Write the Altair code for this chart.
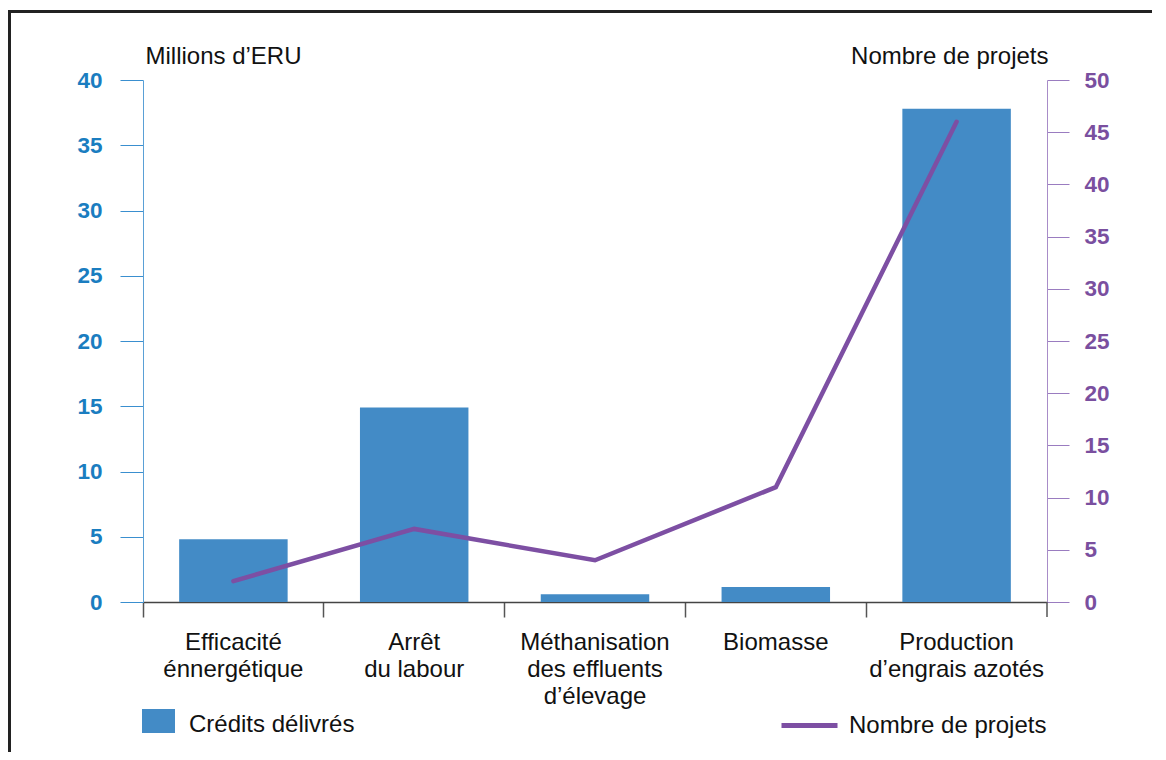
import altair as alt
import pandas as pd

categories = [
    "Efficacité|énnergétique",
    "Arrêt|du labour",
    "Méthanisation|des effluents|d’élevage",
    "Biomasse",
    "Production|d’engrais azotés",
]
credits = [4.8, 14.9, 0.6, 1.15, 37.8]
projets = [2, 7, 4, 11, 46]
credit_ticks = list(range(0, 41, 5))
projet_ticks = list(range(0, 51, 5))

df = pd.DataFrame({
    "cat": categories,
    "credits": credits,
    "projets": projets,
    "sb": "Crédits délivrés",
    "sl": "Nombre de projets",
})

FONT = "Liberation Sans"
W, H = 904, 522
BLUE = "#438bc6"
PURPLE = "#7d4fa3"
TXT = 24

x = alt.X(
    "cat:N", sort=None, title=None,
    scale=alt.Scale(paddingInner=0, paddingOuter=0),
    axis=alt.Axis(
        labelExpr="split(datum.label, '|')", labelAngle=0, bandPosition=0,
        tickSize=15, labelPadding=13, labelFontSize=TXT, labelFont=FONT,
        labelColor="#111", labelLineHeight=27, domainColor="#444",
        tickColor="#555", domainWidth=1.5, tickWidth=1.5, labelBaseline="top",
        labelLimit=400,
    ),
)

bars = alt.Chart(df).mark_bar(width=alt.RelativeBandSize(0.6)).encode(
    x=x,
    y=alt.Y(
        "credits:Q",
        scale=alt.Scale(domain=[0, 40], nice=False),
        axis=alt.Axis(
            orient="left", values=credit_ticks, title="Millions d’ERU",
            titleAngle=0, titleX=2, titleY=-17, titleAlign="left",
            titleBaseline="alphabetic", titleFont=FONT, titleFontSize=TXT,
            titleFontWeight="normal", titleColor="#111",
            labelFont=FONT, labelFontSize=22.5, labelFontWeight="bold",
            labelColor="#1a7dc0", labelPadding=18, tickSize=23,
            tickColor="#3a8fcf", domainColor="#5aa0d6", grid=False,
        ),
    ),
    color=alt.Color(
        "sb:N", scale=alt.Scale(range=[BLUE]),
        legend=alt.Legend(
            orient="none", legendX=-1, legendY=628.5, title=None,
            labelFont=FONT, labelFontSize=TXT, labelColor="#111",
            symbolType="M-1,-0.97H1V0.485H-1Z", symbolSize=1089,
            symbolStrokeWidth=0, labelOffset=14, padding=0, labelLimit=400,
        ),
    ),
)

line = alt.Chart(df).mark_line(strokeWidth=4.5, strokeCap="round").encode(
    x=x,
    y=alt.Y(
        "projets:Q",
        scale=alt.Scale(domain=[0, 50], nice=False),
        axis=alt.Axis(
            orient="right", values=projet_ticks, title="Nombre de projets",
            titleAngle=0, titleX=1, titleY=-17, titleAlign="right",
            titleBaseline="alphabetic", titleFont=FONT, titleFontSize=TXT,
            titleFontWeight="normal", titleColor="#111",
            labelFont=FONT, labelFontSize=22.5, labelFontWeight="bold",
            labelColor="#7a4f9f", labelPadding=15, tickSize=22,
            tickColor="#9a7cc0", domainColor="#a88cc8", grid=False,
        ),
    ),
    stroke=alt.Stroke(
        "sl:N", scale=alt.Scale(range=[PURPLE]),
        legend=alt.Legend(
            orient="none", legendX=636, legendY=615, title=None,
            labelFont=FONT, labelFontSize=TXT, labelColor="#111",
            symbolType="stroke", symbolSize=3136, symbolStrokeWidth=5,
            labelOffset=9, padding=0, labelLimit=400,
        ),
    ),
)

one = pd.DataFrame({"d": [0]})
last_tick = alt.Chart(one).mark_rule(color="#555", strokeWidth=1.5).encode(
    x=alt.value(W), y=alt.value(H), y2=alt.value(H + 15)
)
frame_left = alt.Chart(one).mark_rule(color="#222", strokeWidth=3).encode(
    x=alt.value(-133.5), y=alt.value(-70), y2=alt.value(H + 200)
)
frame_top = alt.Chart(one).mark_rule(color="#222", strokeWidth=3).encode(
    x=alt.value(-135), x2=alt.value(W + 200), y=alt.value(-68.5)
)

chart = (
    alt.layer(bars, line, last_tick, frame_left, frame_top)
    .resolve_scale(y="independent")
    .properties(
        width=W, height=H,
        autosize=alt.AutoSizeParams(type="none"),
        padding={"left": 135, "top": 72, "right": 105, "bottom": 150},
        background="white",
    )
    .configure_view(stroke=None)
)

chart.save("out.html", embed_options={"renderer": "svg", "actions": False})
